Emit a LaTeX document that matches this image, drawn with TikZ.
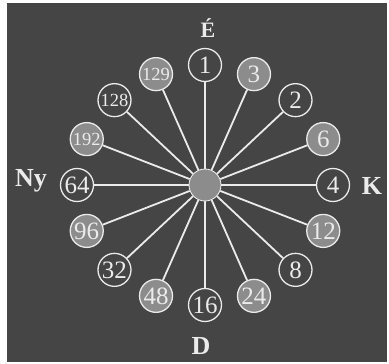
\documentclass[tikz,border=0pt]{standalone}
\usepackage{fontspec}
\setmainfont{Liberation Serif}
\usetikzlibrary{positioning}
\definecolor{bggray}{gray}{0.27}
\definecolor{midgray}{gray}{0.55}
\definecolor{linewhite}{gray}{0.92}

\begin{document}
\begin{tikzpicture}[
        x=1pt, y=-1pt,
        dir/.style={text=linewhite, font=\fontsize{26}{26}\selectfont\bfseries, inner sep=0pt},
        num/.style={circle, draw=linewhite, line width=1.3pt, minimum size=33pt, inner sep=0pt, text=linewhite, font=\fontsize{25}{25}\selectfont},
        small/.style={font=\fontsize{18.5}{18.5}\selectfont},
        spoke/.style={draw=linewhite, line width=1.8pt}
    ]
        % background
        \useasboundingbox (0,0) rectangle (389,364);
        \fill[bggray] (7,3) rectangle (387,362);
        
        % centre
        \node[circle, fill=midgray, draw=linewhite!70, line width=0.8pt, minimum size=32pt] (c) at (205,185) {};
        
        % numbered circles round the centre
        \foreach \lab/\ang/\col/\sz in {1/90/bggray/, 3/67.5/midgray/, 2/45/bggray/, 6/22.5/midgray/,
            4/0/bggray/, 12/-22.5/midgray/, 8/-45/bggray/, 24/-67.5/midgray/,
            16/-90/bggray/, 48/-112.5/midgray/, 32/-135/bggray/, 96/-157.5/midgray/,
            64/180/bggray/, 192/157.5/midgray/small, 128/135/bggray/small, 129/112.5/midgray/small}{
            \node[num, fill=\col, \sz] (n\lab) at ({205+128*cos(\ang)},{185-120*sin(\ang)}) {\lab};
            \draw[spoke] (c) -- (n\lab);
        }
        
        % compass letters
        \node[dir, font=\fontsize{22}{22}\selectfont\bfseries] (north) at (208,28) {É};
        \node[dir] (south) at (201,346) {D};
        \node[dir] (west) at (31,181) {Ny};
        \node[dir] (east) at (372,186) {K};
    \end{tikzpicture}
\end{document}
